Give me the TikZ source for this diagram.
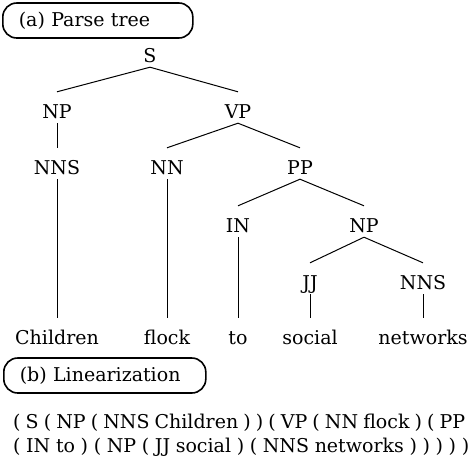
\documentclass[tikz,border=0pt]{standalone}
\usepackage{fontspec}
\setmainfont{DejaVu Serif}
\usetikzlibrary{shapes,arrows}

\begin{document}
\begin{tikzpicture}[x=1pt, y=-1pt]

\tikzstyle{every node} = [font=\fontsize{19}{23}\selectfont]
\tikzstyle{tree} = [anchor=base, inner sep=0pt, text height=26pt, text depth=5pt]
\tikzstyle{tag} = [draw, line width=1.6pt, rounded corners=14pt, anchor=west, minimum height=35pt, inner xsep=16pt, align=left]
\tikzstyle{branch} = [line width=1pt]

\useasboundingbox (0,0) rectangle (470,456);

\node[tag, text width=158pt] (ta) at (2,20.5) {(a) Parse tree};

\node[tree] (s) at (150,62) {S};

\node[tree] (np) at (57,118) {NP};
\node[tree] (vp) at (238,118) {VP};

\node[tree] (nns) at (57,174) {NNS};
\node[tree] (nn) at (167,174) {NN};
\node[tree] (pp) at (300,174) {PP};

\node[tree] (in) at (238,232) {IN};
\node[tree] (np2) at (364,232) {NP};

\node[tree] (jj) at (310,289) {JJ};
\node[tree] (nns2) at (423,289) {NNS};

\node[tree] (children) at (57,344) {Children};
\node[tree] (flock) at (167,344) {flock};
\node[tree] (to) at (238,344) {to};
\node[tree] (social) at (310,344) {social};
\node[tree] (networks) at (423,344) {networks};

\node[tag, text width=170pt] (tb) at (3,375.5) {(b) Linearization};

\node[anchor=base west, inner sep=0pt] (l1) at (13,428) {\makebox[452pt][s]{( S ( NP ( NNS Children ) ) ( VP ( NN flock ) ( PP}};
\node[anchor=base west, inner sep=0pt] (l2) at (13,452) {\makebox[456pt][s]{( IN to ) ( NP ( JJ social ) ( NNS networks ) ) ) ) )}};

\draw[branch] (s.south) -- (np.north);
\draw[branch] (s.south) -- (vp.north);
\draw[branch] (np.south) -- (nns.north);
\draw[branch] (vp.south) -- (nn.north);
\draw[branch] (vp.south) -- (pp.north);
\draw[branch] (pp.south) -- (in.north);
\draw[branch] (pp.south) -- (np2.north);
\draw[branch] (np2.south) -- (jj.north);
\draw[branch] (np2.south) -- (nns2.north);
\draw[branch] (nns.south) -- (children.north);
\draw[branch] (nn.south) -- (flock.north);
\draw[branch] (in.south) -- (to.north);
\draw[branch] (jj.south) -- (social.north);
\draw[branch] (nns2.south) -- (networks.north);
\end{tikzpicture}
\end{document}
